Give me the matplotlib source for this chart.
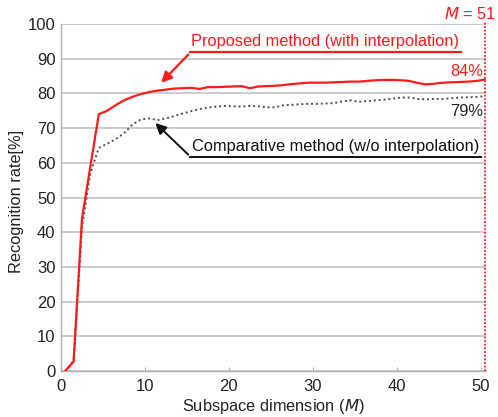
import numpy as np
import matplotlib
matplotlib.use('Agg')
import matplotlib.pyplot as plt

# subspace dimension M = 1..51
dims = np.arange(1, 52)

# recognition rate [%], proposed method (with interpolation)
proposed = [0, 2.7, 44, 59, 74, 75, 76.6, 78, 79, 79.8,
            80.4, 80.8, 81.1, 81.4, 81.5, 81.6, 81.3, 81.8, 81.8, 81.9,
            82.0, 82.1, 81.5, 82.0, 82.1, 82.2, 82.4, 82.7, 82.9, 83.1,
            83.1, 83.1, 83.2, 83.3, 83.4, 83.4, 83.6, 83.8, 83.9, 83.9,
            83.8, 83.6, 83.0, 82.6, 82.8, 83.1, 83.2, 83.3, 83.4, 83.6,
            84.0]

# recognition rate [%], comparative method (w/o interpolation)
comparative = [0, 3, 41.5, 57, 64.3, 65.5, 66.8, 68.5, 71, 72.5,
               72.8, 72.3, 72.8, 73.5, 74.2, 74.9, 75.5, 75.9, 76.2, 76.4,
               76.3, 76.2, 76.4, 76.3, 76.0, 76.0, 76.6, 76.7, 76.9, 77.0,
               77.0, 77.1, 77.2, 77.7, 78.0, 77.6, 77.8, 78.0, 78.2, 78.5,
               78.8, 78.8, 78.4, 78.3, 78.4, 78.4, 78.6, 78.8, 78.9, 79.0,
               79.2]

x_ticks = [0, 10, 20, 30, 40, 50]
y_ticks = list(range(0, 101, 10))

plt.rcParams['font.family'] = ['Liberation Sans', 'DejaVu Sans']
RED = '#ff1a1a'
GRID = '#c8c8c8'
FS = 11.8

fig = plt.figure(figsize=(4.98, 4.17), dpi=100)
ax = fig.add_axes([0.1225, 0.1103, 0.853, 0.8321])

# category-style x axis: M=k sits half a step left of k
xpos = dims - 0.5

ax.plot(xpos, comparative, color='#505050', lw=1.4, ls=(0, (1, 1.5)), zorder=3)
ax.plot(xpos, proposed, color=RED, lw=1.6, zorder=4)

# M = 51 marker
ax.plot([xpos[-1], xpos[-1]], [0, 101], color=RED, lw=1.3,
        ls=(0, (1, 1)), clip_on=False, zorder=5)
ax.text(xpos[-1] + 1.3, 102.8, '$M$ = 51', color=RED, fontsize=FS,
        ha='right', va='center', clip_on=False)

ax.set_xlim(0, 50.6)
ax.set_ylim(0, 100)
ax.set_xticks(x_ticks)
ax.set_yticks(y_ticks)
ax.yaxis.grid(True, color=GRID, lw=1.3)
ax.set_axisbelow(True)
for s in ['top', 'right']:
    ax.spines[s].set_visible(False)
for s in ['left', 'bottom']:
    ax.spines[s].set_color('#b0b0b0')
    ax.spines[s].set_linewidth(1.0)
ax.tick_params(axis='x', direction='in', length=3, color='#b0b0b0',
               labelsize=12, labelcolor='#222222', pad=6)
ax.tick_params(axis='y', length=0, labelsize=12, labelcolor='#222222', pad=4)

ax.set_xlabel('Subspace dimension ($M$)', fontsize=FS, color='#222222', labelpad=2)
ax.set_ylabel('Recognition rate[%]', fontsize=FS, color='#222222')
ax.yaxis.set_label_coords(-0.087, 0.49)

# annotation: proposed
ax.annotate('', xy=(11.7, 82.5), xytext=(15.4, 91.8),
            arrowprops=dict(arrowstyle='-|>', color=RED, lw=1.6,
                            mutation_scale=16), zorder=6)
ax.plot([15.4, 47.6], [91.8, 91.8], color=RED, lw=1.6, zorder=6)
ax.text(31.5, 94.9, 'Proposed method (with interpolation)', color=RED,
        fontsize=FS, ha='center', va='center')
ax.text(50.3, 86.2, '84%', color=RED, fontsize=FS, ha='right', va='center')

# annotation: comparative
ax.annotate('', xy=(11.0, 72.0), xytext=(15.4, 61.8),
            arrowprops=dict(arrowstyle='-|>', color='#111111', lw=1.4,
                            mutation_scale=16), zorder=6)
ax.plot([15.4, 50.0], [61.8, 61.8], color='#111111', lw=1.4, zorder=6)
ax.text(32.7, 64.8, 'Comparative method (w/o interpolation)', color='#111111',
        fontsize=FS, ha='center', va='center')
ax.text(50.3, 74.8, '79%', color='#222222', fontsize=FS, ha='right', va='center')

fig.savefig('out.png', dpi=100)
